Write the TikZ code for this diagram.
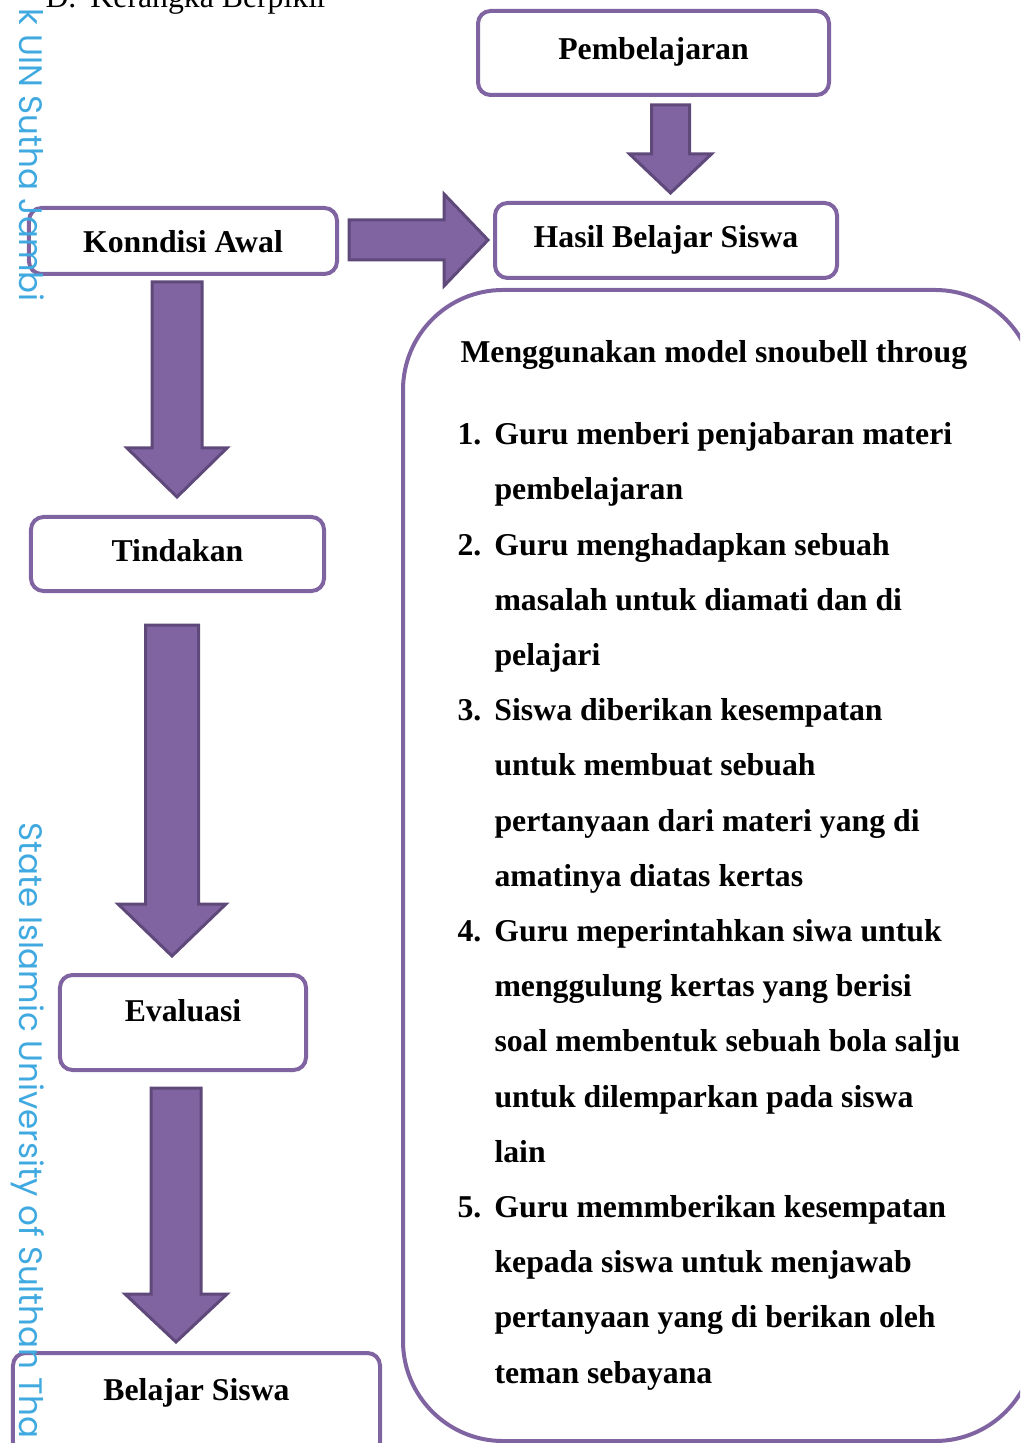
\documentclass[tikz,border=0pt]{standalone}
\usepackage{fontspec}
\setmainfont{Liberation Serif}
\newfontfamily\markfont{Poppins}
\usetikzlibrary{calc,positioning}
\definecolor{boxline}{HTML}{8064A2}
\definecolor{arrowfill}{HTML}{8064A2}
\definecolor{arrowline}{HTML}{5F497A}
\definecolor{markblue}{HTML}{3FA9E0}

% block arrows: tail, tip, shaft half width, head half width, head length
\newcommand{\downblock}[5]{%
  \draw[blockarrow] ($#1+(-#3,0)$) -- ($#2+(-#3,-#5)$) -- ($#2+(-#4,-#5)$) -- #2
    -- ($#2+(#4,-#5)$) -- ($#2+(#3,-#5)$) -- ($#1+(#3,0)$) -- cycle;}
\newcommand{\rightblock}[5]{%
  \draw[blockarrow] ($#1+(0,-#3)$) -- ($#2+(-#5,-#3)$) -- ($#2+(-#5,-#4)$) -- #2
    -- ($#2+(-#5,#4)$) -- ($#2+(-#5,#3)$) -- ($#1+(0,#3)$) -- cycle;}

\begin{document}
\begin{tikzpicture}[
    x=0.4pt, y=-0.4pt,
    box/.style={rectangle, draw=boxline, fill=white, line width=1.6pt, rounded corners=5pt, inner sep=0pt, outer sep=0pt, font=\bfseries\fontsize{12.7}{15}\selectfont, text height=9pt, text depth=3pt},
    blockarrow/.style={fill=arrowfill, draw=arrowline, line width=1.2pt, line join=miter},
    watermark/.style={rotate=-90, inner sep=0pt, text=markblue, font=\markfont\fontsize{13}{16}\selectfont},
    plain/.style={inner sep=0pt, font=\fontsize{12.7}{15}\selectfont}
]
\useasboundingbox (0,0) rectangle (1020,1443);
\clip (0,0) rectangle (1020,1443);

% heading
\node[plain, anchor=base west] (heading) at (45,8) {\makebox[18pt][l]{D.}Kerangka Berpikir};

% big box with the steps
\node[box, rounded corners=40pt, minimum width=252.8pt, minimum height=460.4pt] (model) at (719,865.5) {};
\node[plain, font=\bfseries\fontsize{12.7}{15}\selectfont, anchor=base west] (judul) at (460,363) {Menggunakan model snoubell throug};
\node[plain, font=\bfseries\fontsize{12.7}{22.08}\selectfont, anchor=north west] (langkah) at (457,405.5) {%
\begin{tabular}{@{}p{14.8pt}@{}l@{}}
1. & Guru menberi penjabaran materi\\
   & pembelajaran\\
2. & Guru menghadapkan sebuah\\
   & masalah untuk diamati dan di\\
   & pelajari\\
3. & Siswa diberikan kesempatan\\
   & untuk membuat sebuah\\
   & pertanyaan dari materi yang di\\
   & amatinya diatas kertas\\
4. & Guru meperintahkan siwa untuk\\
   & menggulung kertas yang berisi\\
   & soal membentuk sebuah bola salju\\
   & untuk dilemparkan pada siswa\\
   & lain\\
5. & Guru memmberikan kesempatan\\
   & kepada siswa untuk menjawab\\
   & pertanyaan yang di berikan oleh\\
   & teman sebayana
\end{tabular}};

% boxes
\node[box, minimum width=140.4pt, minimum height=33.6pt, text depth=4pt] (pemb) at (653.5,53) {Pembelajaran};
\node[box, minimum width=136.8pt, minimum height=30pt] (hasil) at (666,240.5) {Hasil Belajar Siswa};
\node[box, minimum width=123.2pt, minimum height=26.4pt, text depth=0pt] (awal) at (183,241) {Konndisi Awal};
\node[box, minimum width=117.2pt, minimum height=29.6pt] (tind) at (177.5,554) {Tindakan};
\node[box, minimum width=98.4pt, minimum height=38pt, text depth=10pt] (eval) at (183,1022.5) {Evaluasi};
\node[box, minimum width=146.8pt, minimum height=40.8pt, text depth=12pt] (bel) at (196.5,1404) {Belajar Siswa};

% arrows
\coordinate (a1s) at ($(pemb.south)+(17,10)$);
\coordinate (a1e) at ($(a1s |- hasil.north)+(0,-10)$);
\downblock{(a1s)}{(a1e)}{19}{41}{39}

\coordinate (r1s) at ($(awal.east)+(12,-1)$);
\coordinate (r1e) at ($(r1s -| hasil.west)+(-7,0)$);
\rightblock{(r1s)}{(r1e)}{20}{46}{44}

\coordinate (a2s) at ($(awal.south)+(-6,8)$);
\coordinate (a2e) at ($(a2s |- tind.north)+(0,-20)$);
\downblock{(a2s)}{(a2e)}{25}{50}{49}

\coordinate (a3s) at ($(tind.south)+(-5.5,34)$);
\coordinate (a3e) at ($(a3s |- eval.north)+(0,-19)$);
\downblock{(a3s)}{(a3e)}{26.5}{54}{52}

\coordinate (a4s) at ($(eval.south)+(-7,18)$);
\coordinate (a4e) at ($(a4s |- bel.north)+(0,-11)$);
\downblock{(a4s)}{(a4e)}{25}{51}{48}

% watermark on top
\node[watermark, anchor=base east] (wm1) at (19,302) {k UIN Sutha Jambi};
\node[watermark, anchor=base west] (wm2) at (19,822) {State Islamic University of Sulthan Tha};

\end{tikzpicture}
\end{document}
